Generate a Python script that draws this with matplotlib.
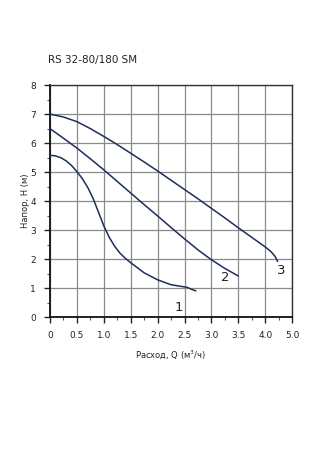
import matplotlib
matplotlib.use("Agg")
import matplotlib.pyplot as plt
from matplotlib.ticker import MultipleLocator

# data (x in grid units of 0.5)
q1 = [0.0, 0.1, 0.2, 0.3, 0.4, 0.5, 0.6, 0.7, 0.8, 0.9, 1.0, 1.1, 1.2, 1.3, 1.4,
      1.5, 1.75, 2.0, 2.25, 2.45, 2.55, 2.62, 2.71]
h1 = [5.58, 5.56, 5.5, 5.39, 5.23, 5.02, 4.78, 4.48, 4.1, 3.63, 3.15, 2.76, 2.45,
      2.21, 2.03, 1.88, 1.53, 1.29, 1.12, 1.06, 1.03, 0.97, 0.91]

q2 = [0.0, 0.25, 0.5, 0.75, 1.0, 1.25, 1.5, 1.75, 2.0, 2.25, 2.5, 2.75, 3.0, 3.25, 3.5]
h2 = [6.5, 6.17, 5.83, 5.46, 5.08, 4.68, 4.28, 3.88, 3.49, 3.09, 2.7, 2.32, 1.98, 1.68, 1.42]

q3 = [0.0, 0.25, 0.5, 0.75, 1.0, 1.25, 1.5, 1.75, 2.0, 2.25, 2.5, 2.75, 3.0,
      3.25, 3.5, 3.75, 4.0, 4.1, 4.18, 4.23]
h3 = [7.0, 6.9, 6.74, 6.5, 6.23, 5.95, 5.65, 5.35, 5.04, 4.72, 4.4, 4.08, 3.75,
      3.42, 3.08, 2.75, 2.42, 2.27, 2.1, 1.92]

x_ticks = [0, 0.5, 1.0, 1.5, 2.0, 2.5, 3.0, 3.5, 4.0, 4.5]
x_labels = ["0", "0.5", "1.0", "1.5", "2.0", "2.5", "3.0", "3.5", "4.0", "5.0"]
y_ticks = [0, 1, 2, 3, 4, 5, 6, 7, 8]

curve_labels = ["1", "2", "3"]
label_pos = [(2.4, 0.33), (3.26, 1.36), (4.3, 1.6)]

line_color = "#1d2e5c"

fig = plt.figure(figsize=(3.18, 4.5), dpi=100)
ax = fig.add_axes([0.157, 0.295, 0.762, 0.516])

for xs, ys in [(q1, h1), (q2, h2), (q3, h3)]:
    ax.plot(xs, ys, color=line_color, linewidth=1.1, zorder=3,
            solid_joinstyle="round", solid_capstyle="round")

for txt, (x, y) in zip(curve_labels, label_pos):
    ax.text(x, y, txt, fontsize=9.5, color="#222222", ha="center", va="center")

ax.set_xlim(0, 4.5)
ax.set_ylim(0, 8)
ax.set_xticks(x_ticks)
ax.set_xticklabels(x_labels)
ax.set_yticks(y_ticks)
ax.xaxis.set_minor_locator(MultipleLocator(0.25))
ax.yaxis.set_minor_locator(MultipleLocator(0.5))

ax.grid(True, which="major", color="#8a8a8a", linewidth=0.9)
ax.set_axisbelow(True)

for s in ["left", "bottom"]:
    ax.spines[s].set_linewidth(1.3)
    ax.spines[s].set_color("#111111")
for s in ["top", "right"]:
    ax.spines[s].set_linewidth(1.0)
    ax.spines[s].set_color("#333333")

ax.tick_params(axis="both", which="major", direction="out", length=4, width=1,
               labelsize=6.5, colors="#222222", pad=6)
ax.tick_params(axis="both", which="minor", direction="out", length=2.5, width=0.8,
               colors="#555555")

ax.set_xlabel("Расход, Q (м$^3$/ч)", fontsize=6, color="#222222", labelpad=6)
ax.set_ylabel("Напор, H (м)", fontsize=6, color="#222222", labelpad=0)

fig.text(0.151, 0.867, "RS 32-80/180 SM", fontsize=7.5, color="#222222",
         ha="left", va="center")

fig.savefig("out.png", dpi=100, facecolor="white")
